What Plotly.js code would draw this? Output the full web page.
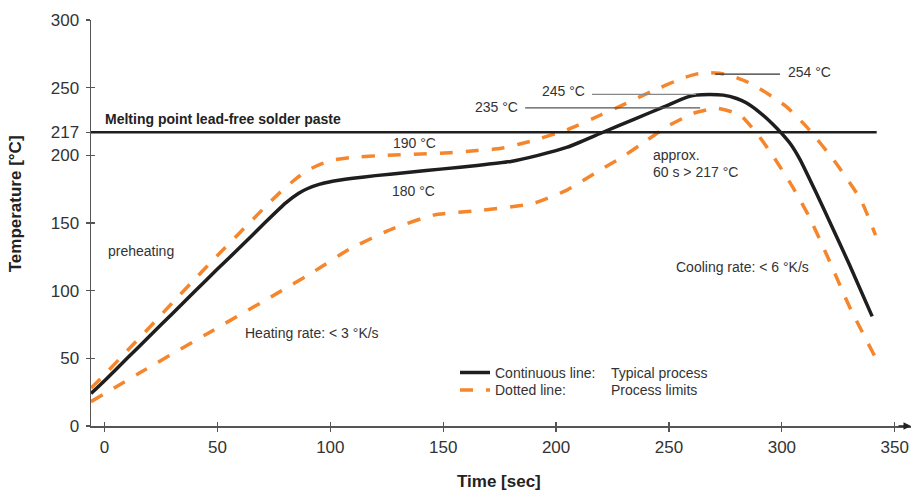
<!DOCTYPE html>
<html>
<head>
<meta charset="utf-8">
<script src="https://cdn.plot.ly/plotly-3.0.1.min.js"></script>
<style>html,body{margin:0;padding:0;background:#fff}#chart{width:912px;height:493px}</style>
</head>
<body>
<div id="chart"></div>
<script>
// Typical process (continuous line)
const typicalTime = [-6, 0, 10, 20, 30, 40, 50, 60, 70, 80, 86, 90, 95, 100, 110, 120, 135, 150, 165, 180, 192, 205, 220, 235, 248, 258, 262, 268, 274, 280, 284, 290, 296, 300, 304, 308, 315, 322, 330, 340];
const typicalTemp = [24, 33.5, 50, 66.5, 83, 99.5, 116, 132, 148.5, 164.5, 172, 175.5, 178.5, 180.5, 183, 185, 187.5, 190, 192.5, 195.5, 200, 206, 216.5, 227, 236, 243, 244.5, 245, 244.5, 242, 239, 232, 223, 216, 208, 197, 173, 148, 119, 81];

// Upper process limit (dashed)
const upperTime = [-6, 0, 10, 20, 30, 40, 50, 60, 70, 78, 85, 90, 95, 101, 110, 124, 140, 153, 165, 175, 183, 190, 205, 220, 228, 242, 256, 262, 267, 273, 279, 285, 290, 296, 302, 311, 323, 335, 341.5];
const upperTemp = [28, 38, 55.5, 73, 91, 108.5, 126, 143, 160, 173, 183, 189, 193, 196.5, 198.5, 200, 201, 202, 203.5, 205, 208, 211, 219, 230, 236, 247, 257, 260, 261, 260.5, 258, 254, 249.5, 243, 236, 221, 196.5, 167, 141];

// Lower process limit (dashed)
const lowerTime = [-6, 15.8, 45.3, 76.4, 92.6, 108.8, 128, 145.7, 167.8, 190, 204.8, 219.5, 228.4, 237.2, 249.1, 260.9, 271.2, 281.5, 288.9, 296.3, 305, 312, 320, 330, 341];
const lowerTemp = [18, 39.5, 68, 98, 114, 131, 146, 155.8, 159.5, 164.5, 174.3, 189.1, 197.8, 207.6, 221.2, 231.1, 234.8, 229.8, 216.3, 199, 176, 155, 126, 88, 52];

const yTickVals = [0, 50, 100, 150, 200, 217, 250, 300];
const xTickVals = [0, 50, 100, 150, 200, 250, 300, 350];
const meltingPoint = 217;

const FONT = 'Liberation Sans, Arial, sans-serif';
const ORANGE = '#F5862C';
const BLACK = '#1E1E1E';
const TEXT = '#333333';
const AXIS = '#555555';
const DASH = '13px,13px';

const traces = [
  {x: typicalTime, y: typicalTemp, type: 'scatter', mode: 'lines', name: 'Continuous line:', legend: 'legend',
   line: {color: BLACK, width: 3.5, shape: 'spline', smoothing: 0.5}, hoverinfo: 'skip'},
  {x: upperTime, y: upperTemp, type: 'scatter', mode: 'lines', name: 'Dotted line:', legend: 'legend2',
   line: {color: ORANGE, width: 3.5, dash: DASH, shape: 'spline', smoothing: 0.5}, hoverinfo: 'skip'},
  {x: lowerTime, y: lowerTemp, type: 'scatter', mode: 'lines', name: 'Process limits (lower)', showlegend: false,
   line: {color: ORANGE, width: 3.5, dash: DASH, shape: 'spline', smoothing: 0.5}, hoverinfo: 'skip'},
  {x: [], y: [], xaxis: 'x2', yaxis: 'y2', showlegend: false, hoverinfo: 'skip'}
];

const xr = [-6, 357.2];
const yr = [0, 300];

function ann(text, x, y, xanchor, extra) {
  return Object.assign({text: text, x: x, y: y, xref: 'x', yref: 'y', xanchor: xanchor, yanchor: 'middle',
    showarrow: false, font: {family: FONT, size: 14, color: TEXT}}, extra || {});
}

function legendAt(topPx) {
  return {x: (455 - 91) / 820, y: (425.7 - topPx) / 406, xanchor: 'left', yanchor: 'top',
    bgcolor: 'rgba(0,0,0,0)', borderwidth: 0, font: {family: FONT, size: 14, color: TEXT}};
}

const layout = {
  width: 912, height: 493,
  margin: {l: 91, r: 1, t: 20, b: 67},
  paper_bgcolor: '#fff', plot_bgcolor: '#fff',
  showlegend: true,
  legend: legendAt(356.5),
  legend2: legendAt(374),
  xaxis: {range: xr, tickvals: xTickVals, ticktext: xTickVals.map(String), ticks: 'outside', ticklen: 4,
    tickcolor: AXIS, tickwidth: 1.2, showline: true, linecolor: AXIS, linewidth: 1.5, showgrid: false,
    zeroline: false, tickfont: {family: FONT, size: 17, color: TEXT}, ticklabelstandoff: 1, fixedrange: true},
  yaxis: {range: yr, tickvals: yTickVals, ticktext: yTickVals.map(String), ticks: 'outside', ticklen: 4,
    tickcolor: AXIS, tickwidth: 1.2, showline: true, linecolor: AXIS, linewidth: 1.5, showgrid: false,
    zeroline: false, tickfont: {family: FONT, size: 17, color: TEXT}, ticklabelstandoff: 3, fixedrange: true},
  xaxis2: {range: xr, overlaying: 'x', anchor: 'y', tickvals: xTickVals, ticks: 'inside', ticklen: 4,
    tickcolor: AXIS, tickwidth: 1.2, showticklabels: false, showline: false, showgrid: false, zeroline: false},
  yaxis2: {range: yr, overlaying: 'y', anchor: 'x', tickvals: yTickVals, ticks: 'inside', ticklen: 4,
    tickcolor: AXIS, tickwidth: 1.2, showticklabels: false, showline: false, showgrid: false, zeroline: false},
  shapes: [
    {type: 'line', xref: 'x', yref: 'y', x0: -6, x1: 342, y0: meltingPoint, y1: meltingPoint,
     line: {color: BLACK, width: 2.5}},
    {type: 'line', xref: 'x', yref: 'y', x0: 215.9, x1: 262, y0: 245, y1: 245, line: {color: '#888', width: 1.2}},
    {type: 'line', xref: 'x', yref: 'y', x0: 186.3, x1: 263.8, y0: 235, y1: 235, line: {color: '#555', width: 1.2}},
    {type: 'line', xref: 'x', yref: 'y', x0: 270.5, x1: 299.2, y0: 260, y1: 260, line: {color: '#333', width: 1.2}}
  ],
  annotations: [
    ann('<b>Melting point lead-free solder paste</b>', -0.7, 227, 'left', {font: {family: FONT, size: 14, color: '#222'}}),
    ann('245 °C', 213.6, 247.6, 'right'),
    ann('235 °C', 184.1, 236, 'right'),
    ann('254 °C', 301.9, 261.8, 'left'),
    ann('190 °C', 137.2, 208.9, 'center'),
    ann('180 °C', 136.8, 173.8, 'center'),
    ann('approx.', 242, 200.2, 'left'),
    ann('60 s > 217 °C', 242, 187.4, 'left'),
    ann('preheating', 0.6, 129.4, 'left'),
    ann('Heating rate: < 3 °K/s', 61.3, 68.8, 'left'),
    ann('Cooling rate: < 6 °K/s', 252.3, 117.2, 'left'),
    ann('Typical process', 223.6, 39.5, 'left'),
    ann('Process limits', 223.6, 26.4, 'left'),
    {text: '<b>Temperature [°C]</b>', xref: 'paper', yref: 'paper', x: (15 - 91) / 820, y: (425.7 - 204) / 406,
     xanchor: 'center', yanchor: 'middle', textangle: -90, showarrow: false,
     font: {family: FONT, size: 17, color: '#222'}},
    {text: '<b>Time [sec]</b>', xref: 'paper', yref: 'paper', x: (499 - 91) / 820, y: (425.7 - 492) / 406,
     xanchor: 'center', yanchor: 'bottom', showarrow: false, borderpad: 0,
     font: {family: FONT, size: 17, color: '#222'}},
    {text: '', xref: 'x', yref: 'y', x: 357.2, y: 0, ax: -14, ay: 0, axref: 'pixel', ayref: 'pixel',
     showarrow: true, arrowhead: 2, arrowsize: 1, arrowwidth: 1.5, arrowcolor: '#222', standoff: 0}
  ]
};

Plotly.newPlot('chart', traces, layout, {displayModeBar: false, staticPlot: true});
</script>
</body>
</html>
